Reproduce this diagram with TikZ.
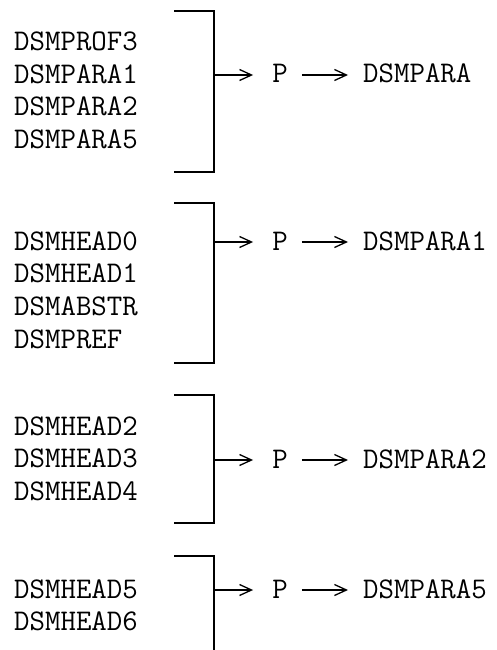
\documentclass[tikz,border=0pt]{standalone}
\usetikzlibrary{arrows.meta}

\begin{document}
\begin{tikzpicture}
    [x=1pt, y=-1pt, >={Straight Barb[length=12pt, width=11pt]},
    bracket/.style={draw=black, line width=1.8pt},
    feed/.style={draw=black, line width=1.3pt}]
    % Styles for the file names and the P step
    \tikzstyle{file} = [anchor=base west, inner sep=0pt, font=\ttfamily\fontsize{30}{32}\selectfont]
    \tikzstyle{pass} = [anchor=base, inner sep=0pt, font=\ttfamily\fontsize{30}{32}\selectfont]

    \useasboundingbox (0,0) rectangle (497,650);

    % First group
    \foreach \txt [count=\i] in {DSMPROF3,DSMPARA1,DSMPARA2,DSMPARA5}
        \node [file] (in1\i) at (14,{51+32.5*(\i-1)}) {\txt};
    \draw [bracket] (174,11) -- (214,11) -- (214,172) -- (174,172);
    \coordinate (b1) at (214,75);
    \node [pass] (p1) at (280,83) {P};
    \node [file] (out1) at (363,83) {DSMPARA};

    % Second group
    \foreach \txt [count=\i] in {DSMHEAD0,DSMHEAD1,DSMABSTR,DSMPREF}
        \node [file] (in2\i) at (14,{250+32.7*(\i-1)}) {\txt};
    \draw [bracket] (174,203) -- (214,203) -- (214,363) -- (174,363);
    \coordinate (b2) at (214,242);
    \node [pass] (p2) at (280,250) {P};
    \node [file] (out2) at (363,250) {DSMPARA1};

    % Third group
    \foreach \txt [count=\i] in {DSMHEAD2,DSMHEAD3,DSMHEAD4}
        \node [file] (in3\i) at (14,{435+32.5*(\i-1)}) {\txt};
    \draw [bracket] (174,395) -- (214,395) -- (214,523) -- (174,523);
    \coordinate (b3) at (214,460);
    \node [pass] (p3) at (280,468) {P};
    \node [file] (out3) at (363,468) {DSMPARA2};

    % Fourth group, runs off the bottom edge
    \foreach \txt [count=\i] in {DSMHEAD5,DSMHEAD6}
        \node [file] (in4\i) at (14,{598+32*(\i-1)}) {\txt};
    \draw [bracket] (174,556) -- (214,556) -- (214,650.5) -- (174,650.5);
    \coordinate (b4) at (214,590);
    \node [pass] (p4) at (280,598) {P};
    \node [file] (out4) at (363,598) {DSMPARA5};

    % Arrows out of each bracket, through P
    \foreach \g in {1,2,3,4} {
        \draw [feed, ->, shorten >=19pt] (b\g) -- (b\g -| p\g.west);
        \draw [feed, ->, shorten <=14pt, shorten >=15pt] (p\g.east |- b\g) -- (out\g.west |- b\g);
    }
\end{tikzpicture}
\end{document}
